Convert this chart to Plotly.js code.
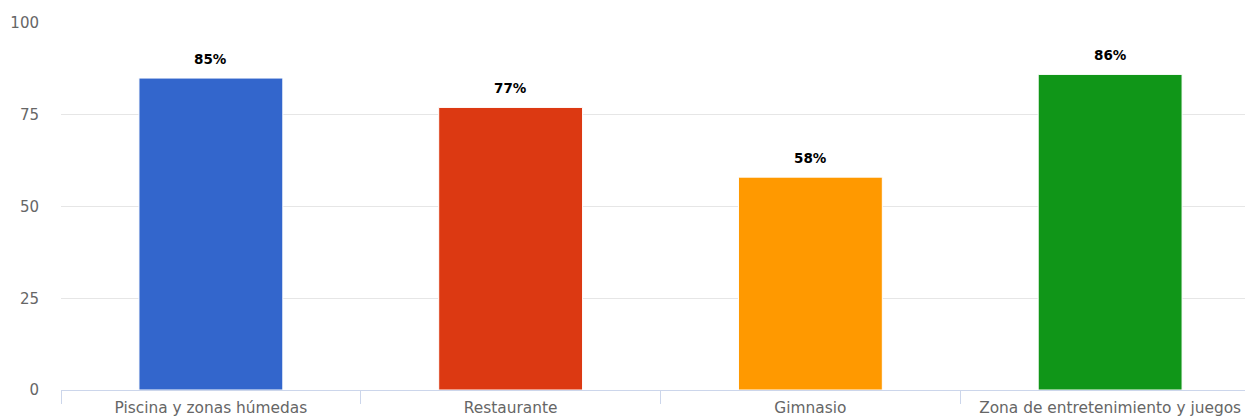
<!DOCTYPE html>
<html>
<head>
<meta charset="utf-8">
<script src="https://cdn.plot.ly/plotly-3.0.1.min.js"></script>
<style>
html, body { margin: 0; padding: 0; overflow: hidden; background: #fff; }
#chart { width: 1261px; height: 419px; }
</style>
</head>
<body>
<div id="chart"></div>
<script>
const categories = ["Piscina y zonas húmedas", "Restaurante", "Gimnasio", "Zona de entretenimiento y juegos"];
const values = [85, 77, 58, 86];
const barColors = ["#3366cc", "#dc3912", "#ff9900", "#109618"];
const yTicks = [0, 25, 50, 75, 100];

const FONT = "DejaVu Sans, Verdana, sans-serif";

const trace = {
  type: "bar",
  x: categories,
  y: values,
  width: 0.48,
  marker: { color: barColors, line: { color: "#ffffff", width: 1 } },
  hoverinfo: "none"
};

const annotations = categories.map((c, i) => ({
  x: c,
  y: values[i],
  xref: "x",
  yref: "y",
  text: values[i] + "%",
  showarrow: false,
  yanchor: "middle",
  yshift: 19,
  font: { family: FONT, size: 13.5, color: "#000000", weight: 700 }
}));

const layout = {
  width: 1261,
  height: 419,
  margin: { l: 61, r: 1, t: 23, b: 29, pad: 0 },
  paper_bgcolor: "#ffffff",
  plot_bgcolor: "#ffffff",
  showlegend: false,
  xaxis: {
    type: "category",
    tickson: "boundaries",
    ticks: "outside",
    ticklen: 13,
    tickwidth: 1,
    tickcolor: "#ccd6eb",
    ticklabelstandoff: 4,
    showline: true,
    linecolor: "#ccd6eb",
    linewidth: 1,
    showgrid: false,
    zeroline: false,
    tickfont: { family: FONT, size: 15.4, color: "#666666" },
    range: [-0.5, 3.5],
    fixedrange: true
  },
  yaxis: {
    range: [0, 100],
    tickvals: yTicks,
    ticktext: yTicks.map(String),
    showgrid: true,
    gridcolor: "#e6e6e6",
    gridwidth: 1,
    zeroline: false,
    showline: false,
    ticks: "outside",
    ticklen: 18,
    tickcolor: "rgba(0,0,0,0)",
    tickfont: { family: FONT, size: 15, color: "#666666" },
    fixedrange: true
  },
  annotations: annotations,
  bargap: 0.52
};

Plotly.newPlot("chart", [trace], layout, { displayModeBar: false, staticPlot: true });
</script>
</body>
</html>
